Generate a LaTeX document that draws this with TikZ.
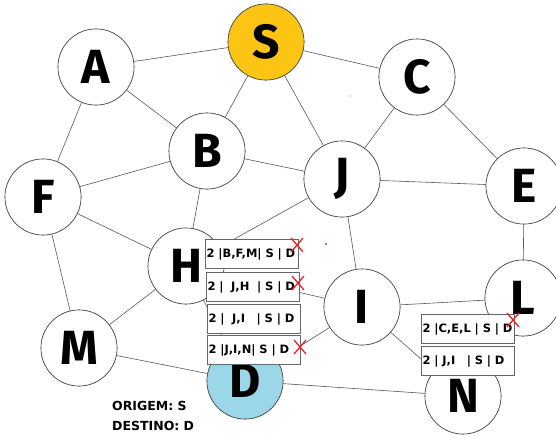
\documentclass[tikz,border=0pt]{standalone}
\usepackage{fontspec}
\setmainfont{Fira Sans}
\newfontfamily\boxfont{DejaVu Sans}
\definecolor{sgold}{HTML}{FDC513}
\definecolor{dblue}{HTML}{9BD7E8}
\definecolor{xred}{HTML}{F02020}
\begin{document}
\begin{tikzpicture}[x=1pt,y=-1pt,
 vtx/.style={circle,draw=black!70,line width=0.6pt,fill=white,minimum size=76pt,inner sep=0pt,font=\fontsize{48}{48}\selectfont\bfseries},
 edge/.style={draw=black!65,line width=0.6pt},
 tbl/.style={draw=black!60,line width=1pt,fill=white,minimum width=93pt,minimum height=29pt,inner sep=1pt,anchor=north west,font=\boxfont\fontsize{11.5}{12}\selectfont\bfseries,text width=91pt,align=left},
 xmark/.style={draw=xred,line width=1.3pt},
 lbl/.style={anchor=base west,inner sep=0pt,font=\boxfont\fontsize{12.5}{13}\selectfont\bfseries}
]
\useasboundingbox (0,0) rectangle (556,436);
\fill[white] (0,0) rectangle (556,436);
% vertices
\node[vtx] (A) at (96,67) {A};
\node[vtx,fill=sgold] (S) at (266,42) {S};
\node[vtx] (C) at (417,77) {C};
\node[vtx] (B) at (207,151) {B};
\node[vtx] (J) at (342,179) {J};
\node[vtx] (E) at (524,186) {E};
\node[vtx] (F) at (43,197) {F};
\node[vtx] (H) at (186,266) {H};
\node[vtx] (I) at (362,307) {I};
\node[vtx] (L) at (523,298) {L};
\node[vtx] (M) at (79,348) {M};
\node[vtx,fill=dblue] (D) at (245,381) {D};
\node[vtx] (N) at (463,396) {N};
% edges
\foreach \u/\v in {A/S,A/B,A/F,S/B,S/J,S/C,C/J,C/E,B/F,B/J,B/H,F/H,F/M,J/E,J/H,J/I,H/M,H/I,H/D,E/L,I/L,I/N,I/D,M/D,D/N}
  \draw[edge] (\u) -- (\v);
% redraw vertices on top of edges
\node[vtx] at (A) {A};
\node[vtx,fill=sgold] at (S) {S};
\node[vtx] at (C) {C};
\node[vtx] at (B) {B};
\node[vtx] at (J) {J};
\node[vtx] at (E) {E};
\node[vtx] at (F) {F};
\node[vtx] at (H) {H};
\node[vtx] at (I) {I};
\node[vtx] at (L) {L};
\node[vtx] at (M) {M};
\node[vtx,fill=dblue] at (D) {D};
\node[vtx] at (N) {N};
% tables
\node[tbl] (t1) at (205,239) {2 |B,F,M| S | D};
\node[tbl] (t2) at (206,272) {2 |\ \ J,H\ \ | S | D};
\node[tbl] (t3) at (207,304) {2 |\ \ J,I\ \ \ | S | D};
\node[tbl] (t4) at (207,335) {2 |J,I,N| S | D};
\node[tbl] (t5) at (421,314) {2 |C,E,L | S | D};
\node[tbl] (t6) at (421,346) {2 | J,I\ \ \ | S | D};
% red crosses
\foreach \p in {(297,245),(298,283),(300,347),(513,320)}{
  \draw[xmark] \p ++(-6,-7) -- ++(12,14);
  \draw[xmark] \p ++(6,-7) -- ++(-12,14);
}
\fill[xred] (326,244) circle (1.2pt);
\fill[black!50] (350,96) circle (0.6pt);
% legend
\node[lbl] (o) at (112,410) {ORIGEM: S};
\node[lbl] (d) at (112,430) {DESTINO: D};
\end{tikzpicture}
\end{document}
